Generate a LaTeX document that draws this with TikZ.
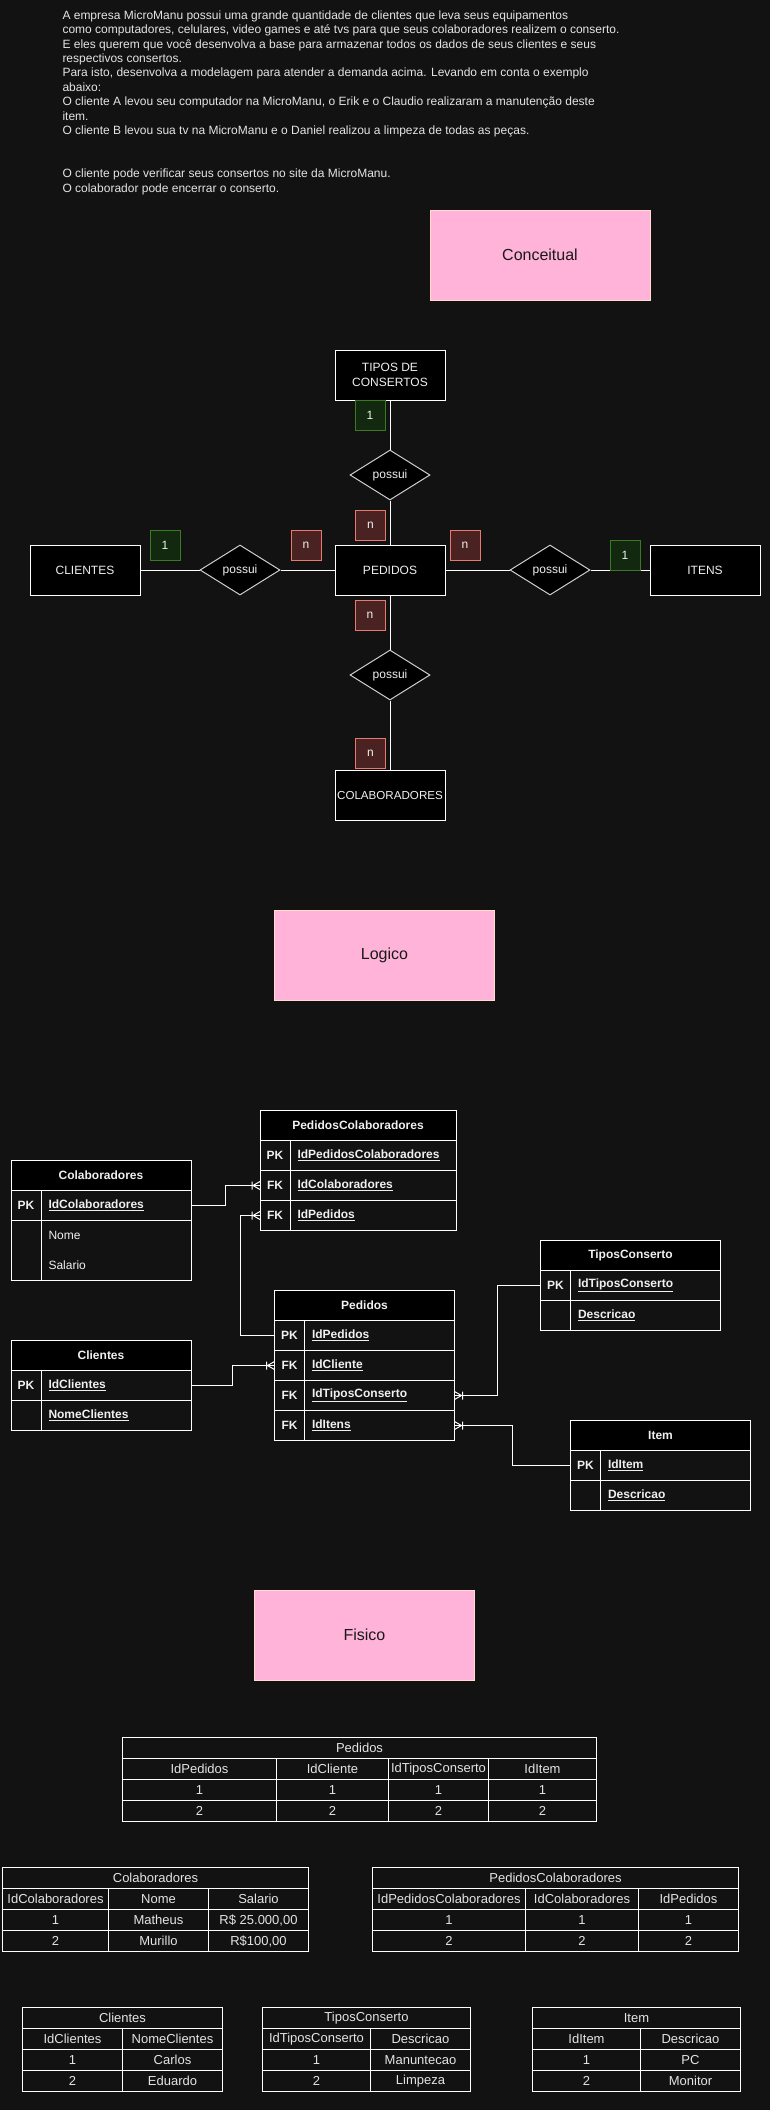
\documentclass[tikz,border=0pt]{standalone}
\usepackage{fontspec}
\setmainfont{Liberation Sans}
\usetikzlibrary{calc}
\usetikzlibrary{shapes.geometric}

\definecolor{fundo}{HTML}{121212}
\definecolor{rosa}{HTML}{FFB3D9}
\definecolor{rosaborda}{HTML}{FFDCCF}
\definecolor{verdefundo}{HTML}{12290F}
\definecolor{verdeborda}{HTML}{3B7A24}
\definecolor{vermfundo}{HTML}{4A2222}
\definecolor{vermborda}{HTML}{E8796F}
\definecolor{texto}{HTML}{F0F0F0}
\definecolor{cinza}{HTML}{E4E4E4}
\definecolor{losango}{HTML}{CFCFCF}

\newcommand{\sublin}[1]{\textbf{\underline{#1}}}

\pgfdeclarearrow{
  name = PeGalinha,
  setup code = {
    \pgfarrowssettipend{0pt}
    \pgfarrowssetlineend{0pt}
    \pgfarrowssetbackend{-8pt}
    \pgfarrowsupperhullpoint{0pt}{4pt}
    \pgfarrowsupperhullpoint{-8pt}{4pt}
  },
  drawing code = {
    \pgfpathmoveto{\pgfpoint{0pt}{4pt}}
    \pgfpathlineto{\pgfpoint{-7pt}{0pt}}
    \pgfpathlineto{\pgfpoint{0pt}{-4pt}}
    \pgfpathmoveto{\pgfpoint{-8pt}{4pt}}
    \pgfpathlineto{\pgfpoint{-8pt}{-4pt}}
    \pgfusepathqstroke
  }
}

\tikzset{
  enunciado/.style={text=cinza, align=left, inner sep=0, anchor=north west, font=\fontsize{12}{14.4}\selectfont},
  etapa/.style={draw=rosaborda, fill=rosa, text=black!90, minimum width=220, minimum height=90, font=\fontsize{16}{19.2}\selectfont},
  entidade/.style={draw=white, fill=black, text=texto, align=center, minimum width=110, minimum height=50, inner sep=0, font=\fontsize{12}{14.4}\selectfont},
  relacao/.style={diamond, draw=losango, fill=black, text=texto, minimum width=80, minimum height=50, inner sep=0, font=\fontsize{12}{14.4}\selectfont},
  um/.style={draw=verdeborda, fill=verdefundo, text=texto, minimum size=30, inner sep=0, font=\fontsize{12}{14.4}\selectfont},
  muitos/.style={draw=vermborda, fill=vermfundo, text=texto, minimum size=30, inner sep=0, font=\fontsize{12}{14.4}\selectfont},
  liga/.style={draw=white},
  cab/.style={draw=white, fill=black, text=texto, font=\fontsize{12}{14.4}\selectfont\bfseries, minimum width=#1, minimum height=30, inner sep=0, outer sep=0, anchor=north west},
  linha/.style={draw=white, minimum width=#1, minimum height=30, inner sep=0, outer sep=0, anchor=north west},
  chave/.style={text=texto, font=\fontsize{12}{14.4}\selectfont\bfseries, inner sep=0},
  campo/.style={text=texto, font=\fontsize{12}{14.4}\selectfont, inner sep=0, anchor=west},
  fk/.style={draw=white, -PeGalinha},
  celula/.style={draw=white, fill=fundo, text=cinza, font=\fontsize{13}{15.6}\selectfont, minimum width=#1, minimum height=21, inner sep=0, outer sep=0, anchor=north west}
}

\begin{document}
\begin{tikzpicture}[x=1pt, y=-1pt, line width=1pt]
\useasboundingbox (0,0) rectangle (770,2110);
\fill[fundo] (0,0) rectangle (770,2110);

\node[enunciado] (texto) at (62,10) {A empresa MicroManu possui uma grande quantidade de clientes que leva seus equipamentos\\
como computadores, celulares, video games e até tvs para que seus colaboradores realizem o conserto.\\
E eles querem que você desenvolva a base para armazenar todos os dados de seus clientes e seus\\
respectivos consertos.\\
Para isto, desenvolva a modelagem para atender a demanda acima. Levando em conta o exemplo\\
abaixo:\\
O cliente A levou seu computador na MicroManu, o Erik e o Claudio realizaram a manutenção deste\\
item.\\
O cliente B levou sua tv na MicroManu e o Daniel realizou a limpeza de todas as peças.\\[28.8pt]
O cliente pode verificar seus consertos no site da MicroManu.\\
O colaborador pode encerrar o conserto.};

\node[etapa] (conceitual) at (540,255) {Conceitual};

\node[entidade] (tipos) at (390,375) {TIPOS DE\\CONSERTOS};
\node[entidade] (pedidos) at (390,570) {PEDIDOS};
\node[entidade] (clientes) at (85,570) {CLIENTES};
\node[entidade] (itens) at (705,570) {ITENS};
\node[entidade, font=\fontsize{11.6}{13.9}\selectfont] (colaboradores) at (390,795) {COLABORADORES};

\node[relacao] (possuiT) at (390,475) {possui};
\node[relacao] (possuiC) at (240,570) {possui};
\node[relacao] (possuiI) at (550,570) {possui};
\node[relacao] (possuiB) at (390,675) {possui};

\draw[liga] (tipos) -- (possuiT) -- (pedidos);
\draw[liga] (clientes) -- (possuiC) -- (pedidos);
\draw[liga] (pedidos) -- (possuiI) -- (itens);
\draw[liga] (pedidos) -- (possuiB) -- (colaboradores);

\node[um] (cardTipos) at (370,415) {1};
\node[muitos] (cardPedT) at (370.5,525) {n};
\node[um] (cardCli) at (165,545) {1};
\node[muitos] (cardPedC) at (306,545) {n};
\node[muitos] (cardPedI) at (465,545) {n};
\node[um] (cardItens) at (625,555) {1};
\node[muitos] (cardPedB) at (370,615) {n};
\node[muitos] (cardColab) at (370.5,753.5) {n};

\node[etapa] (logico) at (384.5,955) {Logico};

\node[cab=196] (pc) at (260,1110.5) {PedidosColaboradores};
\foreach \k/\f [count=\i] in {PK/IdPedidosColaboradores, FK/IdColaboradores, FK/IdPedidos}{
  \node[linha=196] (pc\i) at ($(pc.south west)+(0,{(\i-1)*30})$) {};
  \draw[white] ($(pc\i.north west)+(30,0)$) -- ($(pc\i.south west)+(30,0)$);
  \node[chave] at ($(pc\i.west)+(15,0)$) {\k};
  \node[campo] at ($(pc\i.west)+(37,0)$) {\sublin{\f}};
}

\node[cab=180] (cb) at (11,1160.5) {Colaboradores};
\node[linha=180] (cb1) at (cb.south west) {};
\node[linha=180, minimum height=60] (cb2) at (cb1.south west) {};
\draw[white] ($(cb1.north west)+(30,0)$) -- ($(cb2.south west)+(30,0)$);
\node[chave] at ($(cb1.west)+(15,0)$) {PK};
\node[campo] at ($(cb1.west)+(37,0)$) {\sublin{IdColaboradores}};
\node[campo] at ($(cb2.west)+(37,-15)$) {Nome};
\node[campo] at ($(cb2.west)+(37,15)$) {Salario};

\node[cab=180] (cl) at (11,1340.5) {Clientes};
\foreach \k/\f [count=\i] in {PK/IdClientes, /NomeClientes}{
  \node[linha=180] (cl\i) at ($(cl.south west)+(0,{(\i-1)*30})$) {};
  \draw[white] ($(cl\i.north west)+(30,0)$) -- ($(cl\i.south west)+(30,0)$);
  \node[chave] at ($(cl\i.west)+(15,0)$) {\k};
  \node[campo] at ($(cl\i.west)+(37,0)$) {\sublin{\f}};
}

\node[cab=180] (pd) at (274.5,1290.5) {Pedidos};
\foreach \k/\f [count=\i] in {PK/IdPedidos, FK/IdCliente, FK/IdTiposConserto, FK/IdItens}{
  \node[linha=180] (pd\i) at ($(pd.south west)+(0,{(\i-1)*30})$) {};
  \draw[white] ($(pd\i.north west)+(30,0)$) -- ($(pd\i.south west)+(30,0)$);
  \node[chave] at ($(pd\i.west)+(15,0)$) {\k};
  \node[campo] at ($(pd\i.west)+(37,0)$) {\sublin{\f}};
}

\node[cab=180] (tc) at (540.5,1240.5) {TiposConserto};
\foreach \k/\f [count=\i] in {PK/IdTiposConserto, /Descricao}{
  \node[linha=180] (tc\i) at ($(tc.south west)+(0,{(\i-1)*30})$) {};
  \draw[white] ($(tc\i.north west)+(30,0)$) -- ($(tc\i.south west)+(30,0)$);
  \node[chave] at ($(tc\i.west)+(15,0)$) {\k};
  \node[campo] at ($(tc\i.west)+(37,0)$) {\sublin{\f}};
}

\node[cab=180] (it) at (570.5,1420.5) {Item};
\foreach \k/\f [count=\i] in {PK/IdItem, /Descricao}{
  \node[linha=180] (it\i) at ($(it.south west)+(0,{(\i-1)*30})$) {};
  \draw[white] ($(it\i.north west)+(30,0)$) -- ($(it\i.south west)+(30,0)$);
  \node[chave] at ($(it\i.west)+(15,0)$) {\k};
  \node[campo] at ($(it\i.west)+(37,0)$) {\sublin{\f}};
}

\draw[fk] (cb1.east) -| ($(cb1.east)!.5!(pc2.west)$) |- (pc2.west);
\draw[fk] (pd1.west) -| ($(pc3.west)+(-19.5,0)$) -- (pc3.west);
\draw[fk] (cl1.east) -| ($(cl1.east)!.5!(pd2.west)$) |- (pd2.west);
\draw[fk] (tc1.west) -| ($(tc1.west)!.5!(pd3.east)$) |- (pd3.east);
\draw[fk] (it1.west) -| ($(it1.west)!.5!(pd4.east)$) |- (pd4.east);

\node[etapa] (fisico) at (364.5,1635) {Fisico};

\node[celula=474] (fPedidos) at (122.5,1737.5) {Pedidos};
\foreach \x/\w/\h [count=\i] in {122.5/154/IdPedidos, 276.5/112/IdCliente, 388.5/100/IdTiposConserto, 488.5/108/IdItem}{
  \node[celula=\w] (fPedidosH\i) at (\x,1758.5) {\h};
  \node[celula=\w] (fPedidosA\i) at (\x,1779.5) {1};
  \node[celula=\w] (fPedidosB\i) at (\x,1800.5) {2};
}

\node[celula=306] (fColab) at (2.5,1867.5) {Colaboradores};
\foreach \x/\w/\h/\va/\vb [count=\i] in {2.5/106/IdColaboradores/1/2, 108.5/100/Nome/Matheus/Murillo, 208.5/100/Salario/{R\$ 25.000,00}/{R\$100,00}}{
  \node[celula=\w] (fColabH\i) at (\x,1888.5) {\h};
  \node[celula=\w] (fColabA\i) at (\x,1909.5) {\va};
  \node[celula=\w] (fColabB\i) at (\x,1930.5) {\vb};
}

\node[celula=366] (fPedColab) at (372.5,1867.5) {PedidosColaboradores};
\foreach \x/\w/\h [count=\i] in {372.5/153/IdPedidosColaboradores, 525.5/113/IdColaboradores, 638.5/100/IdPedidos}{
  \node[celula=\w] (fPedColabH\i) at (\x,1888.5) {\h};
  \node[celula=\w] (fPedColabA\i) at (\x,1909.5) {1};
  \node[celula=\w] (fPedColabB\i) at (\x,1930.5) {2};
}

\node[celula=200] (fClientes) at (22.5,2007.5) {Clientes};
\foreach \x/\w/\h/\va/\vb [count=\i] in {22.5/100/IdClientes/1/2, 122.5/100/NomeClientes/Carlos/Eduardo}{
  \node[celula=\w] (fClientesH\i) at (\x,2028.5) {\h};
  \node[celula=\w] (fClientesA\i) at (\x,2049.5) {\va};
  \node[celula=\w] (fClientesB\i) at (\x,2070.5) {\vb};
}

\node[celula=208] (fTipos) at (262.5,2007.5) {TiposConserto};
\foreach \x/\w/\h/\va/\vb [count=\i] in {262.5/108/IdTiposConserto/1/2, 370.5/100/Descricao/Manuntecao/Limpeza}{
  \node[celula=\w] (fTiposH\i) at (\x,2028.5) {\h};
  \node[celula=\w] (fTiposA\i) at (\x,2049.5) {\va};
  \node[celula=\w] (fTiposB\i) at (\x,2070.5) {\vb};
}

\node[celula=208] (fItem) at (532.5,2007.5) {Item};
\foreach \x/\w/\h/\va/\vb [count=\i] in {532.5/108/IdItem/1/2, 640.5/100/Descricao/PC/Monitor}{
  \node[celula=\w] (fItemH\i) at (\x,2028.5) {\h};
  \node[celula=\w] (fItemA\i) at (\x,2049.5) {\va};
  \node[celula=\w] (fItemB\i) at (\x,2070.5) {\vb};
}
\end{tikzpicture}
\end{document}
